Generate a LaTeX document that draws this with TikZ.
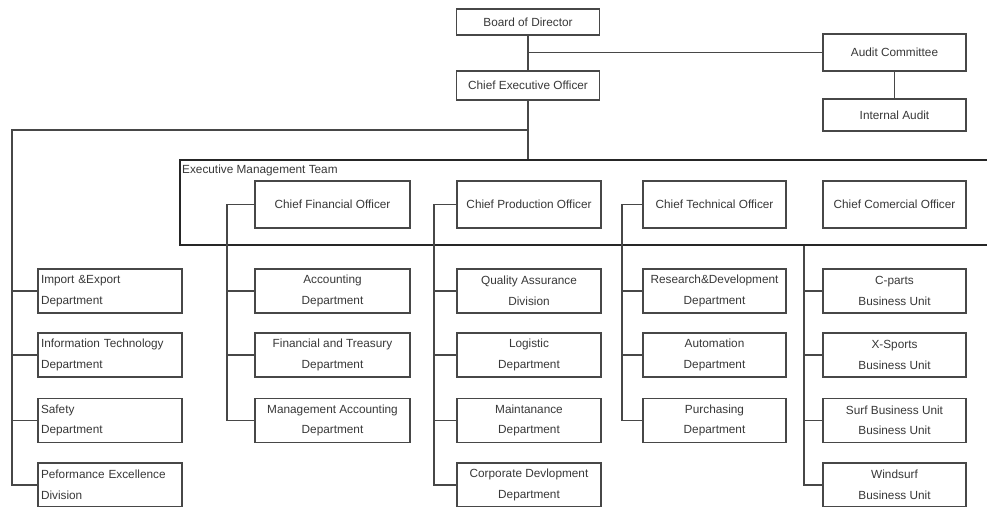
\documentclass[tikz,border=0pt]{standalone}
\usepackage{fontspec}
\setmainfont{Liberation Sans}
\usetikzlibrary{calc}
\definecolor{linegray}{HTML}{474747}
\definecolor{txtgray}{HTML}{383838}

\begin{document}
\begin{tikzpicture}[x=1pt,y=-1pt,
  box/.style={draw=linegray, line width=1.1pt, inner sep=0pt, align=center,
    text=txtgray, font=\fontsize{11.8}{20.5}\selectfont},
  unit/.style={box, minimum width=144pt, minimum height=44pt},
  leftunit/.style={unit, align=left, text width=138pt},
  chief/.style={box, minimum height=47pt},
  conn/.style={draw=linegray, line width=1.1pt}]

\useasboundingbox (0,0) rectangle (987,506);
\clip (0,0) rectangle (987,506);
\fill[white] (0,0) rectangle (987,506);

% top of the organisation
\node[box, minimum width=143pt, minimum height=26pt] (board) at (528,22) {Board of Director};
\node[box, minimum width=143pt, minimum height=29pt] (ceo) at (528,85.5) {Chief Executive Officer};
\node[box, minimum width=143pt, minimum height=37pt] (audit) at (894.5,52.5) {Audit Committee};
\node[box, minimum width=143pt, minimum height=32pt] (iaudit) at (894.5,115) {Internal Audit};

% executive management team frame
\node[draw=black!85, line width=2pt, inner sep=0pt, minimum width=816pt, minimum height=85pt]
  (emt) at (588,202.5) {};
\node[anchor=west, inner sep=0pt, text=txtgray, font=\fontsize{11.8}{14}\selectfont]
  (emtlabel) at ($(emt.north west)+(3,11)$) {Executive Management Team};

\node[chief, minimum width=155pt] (cfo) at (332.5,204.5) {Chief Financial Officer};
\node[chief, minimum width=144pt] (cpo) at (529,204.5) {Chief Production Officer};
\node[chief, minimum width=143pt] (cto) at (714.5,204.5) {Chief Technical Officer};
\node[chief, minimum width=143pt] (cco) at (894.5,204.5) {Chief Comercial Officer};

% staff departments under the CEO
\node[leftunit] (imp)    at (110,291)   {Import \&Export\\Department};
\node[leftunit] (it)     at (110,355)   {Information Technology\\Department};
\node[leftunit] (safety) at (110,420.5) {Safety\\Department};
\node[leftunit] (perf)   at (110,485)   {Peformance Excellence\\Division};

% finance
\node[unit, minimum width=155pt] (acc)   at (332.5,291)   {Accounting\\Department};
\node[unit, minimum width=155pt] (fintr) at (332.5,355)   {Financial and Treasury\\Department};
\node[unit, minimum width=155pt] (mgmt)  at (332.5,420.5) {Management Accounting\\Department};

% production
\node[unit] (qa)    at (529,291)   {Quality Assurance\\Division};
\node[unit] (logi)  at (529,355)   {Logistic\\Department};
\node[unit] (maint) at (529,420.5) {Maintanance\\Department};
\node[unit] (corp)  at (529,485)   {Corporate Devlopment\\Department};

% technical
\node[unit, minimum width=143pt] (rnd)   at (714.5,291)   {Research\&Development\\Department};
\node[unit, minimum width=143pt] (auto)  at (714.5,355)   {Automation\\Department};
\node[unit, minimum width=143pt] (purch) at (714.5,420.5) {Purchasing\\Department};

% commercial business units
\node[unit, minimum width=143pt] (cparts) at (894.5,291)   {C-parts\\Business Unit};
\node[unit, minimum width=143pt] (xsp)    at (894.5,355)   {X-Sports\\Business Unit};
\node[unit, minimum width=143pt] (surf)   at (894.5,420.5) {Surf Business Unit\\Business Unit};
\node[unit, minimum width=143pt] (wind)   at (894.5,485)   {Windsurf\\Business Unit};

% bus lines
\coordinate (lbus) at (12,130);
\coordinate (fbus) at (227,0);
\coordinate (pbus) at (434,0);
\coordinate (tbus) at (622,0);
\coordinate (cbus) at (804,0);

% reporting lines at the top
\draw[conn] (board) -- (ceo);
\draw[conn] (audit.west) -- (audit.west -| board.south);
\draw[conn] (audit) -- (iaudit);
\draw[conn] (ceo.south) -- (ceo.south |- emt.north);
\draw[conn] (ceo.south |- lbus) -- (lbus) |- (perf.west);
\foreach \n in {imp,it,safety} \draw[conn] (\n.west) -- (\n.west -| lbus);

% chief officers to their departments
\draw[conn] (cfo.west) -- (cfo.west -| fbus) |- (mgmt.west);
\foreach \n in {acc,fintr} \draw[conn] (\n.west) -- (\n.west -| fbus);
\draw[conn] (cpo.west) -- (cpo.west -| pbus) |- (corp.west);
\foreach \n in {qa,logi,maint} \draw[conn] (\n.west) -- (\n.west -| pbus);
\draw[conn] (cto.west) -- (cto.west -| tbus) |- (purch.west);
\foreach \n in {rnd,auto} \draw[conn] (\n.west) -- (\n.west -| tbus);
\draw[conn] (emt.south -| cbus) |- (wind.west);
\foreach \n in {cparts,xsp,surf} \draw[conn] (\n.west) -- (\n.west -| cbus);
\end{tikzpicture}
\end{document}
